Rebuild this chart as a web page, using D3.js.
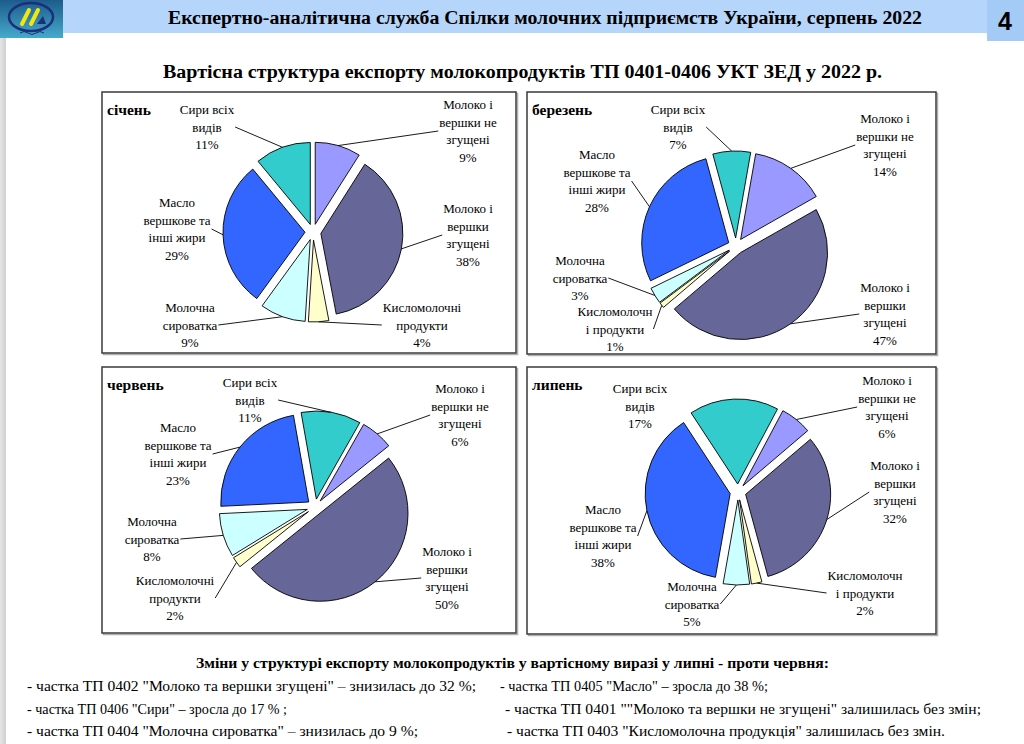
<!DOCTYPE html>
<html>
<head>
<meta charset="utf-8">
<script src="https://cdn.jsdelivr.net/npm/d3@7"></script>
<style>
  body { margin: 0; background: #fff; }
  svg { display: block; }
  text { font-family: "Liberation Serif", "Times New Roman", serif; }
</style>
</head>
<body>
<svg id="chart" width="1024" height="744"></svg>
<script>
// Slice categories, clockwise from the first slice
var categories = ["Молоко і вершки не згущені", "Молоко і вершки згущені", "Кисломолочні продукти",
                  "Молочна сироватка", "Масло вершкове та інші жири", "Сири всіх видів"];
var sliceColors = ["#9999ff", "#666699", "#ffffcc", "#ccffff", "#3366ff", "#33cccc"];
var months = ["січень", "березень", "червень", "липень"];

// Shares, %
var janValues = [9, 38, 4, 9, 29, 11];
var marValues = [14, 47, 1, 3, 28, 7];
var junValues = [6, 50, 2, 8, 23, 11];
var julValues = [6, 32, 2, 5, 38, 17];

// Label wording (Excel wrapped "Кисломолочні" differently on two charts)
var labelsA = [["Молоко і", "вершки не", "згущені"], ["Молоко і", "вершки", "згущені"], ["Кисломолочні", "продукти"],
               ["Молочна", "сироватка"], ["Масло", "вершкове та", "інші жири"], ["Сири всіх", "видів"]];
var labelsB = [["Молоко і", "вершки не", "згущені"], ["Молоко і", "вершки", "згущені"], ["Кисломолочн", "і продукти"],
               ["Молочна", "сироватка"], ["Масло", "вершкове та", "інші жири"], ["Сири всіх", "видів"]];

// Page texts
var headerText = "Експертно-аналітична служба Спілки молочних підприємств України,  серпень 2022";
var pageNumber = "4";
var titleText = "Вартісна структура експорту молокопродуктів ТП 0401-0406 УКТ ЗЕД у 2022 р.";
var notesTitle = "Зміни у структурі експорту молокопродуктів у вартісному виразі у липні  - проти червня:";
var notesLeft = ["- частка ТП 0402 \"Молоко та вершки згущені\" – знизилась до 32 %;",
                 "- частка ТП 0406 \"Сири\" – зросла  до 17 % ;",
                 "- частка ТП 0404 \"Молочна сироватка\" – знизилась до 9 %;"];
var notesRight = ["-  частка ТП 0405 \"Масло\" – зросла до 38 %;",
                  "- частка ТП 0401 \"\"Молоко та вершки не згущені\" залишилась без змін;",
                  "- частка ТП 0403 \"Кисломолочна продукція\" залишилась без змін."];

// Panel layout: frame, pie centre/radius, first slice angle, label block centres
var panels = [
  { month: months[0], values: janValues, labels: labelsA, x: 102, y: 92, w: 414, h: 261,
    cx: 313, cy: 232, r: 82, start: 0,
    pos: [[468, 131], [468, 235], [422, 325], [190, 325], [177, 229], [207, 127]], lead: [1, 1, 1, 1, 1, 1] },
  { month: months[1], values: marValues, labels: labelsB, x: 527, y: 92, w: 409, h: 262,
    cx: 736, cy: 246, r: 87, start: 10,
    pos: [[885, 145], [885, 314], [615, 329], [580, 278], [597, 181], [678, 127]], lead: [1, 1, 1, 1, 1, 1] },
  { month: months[2], values: junValues, labels: labelsA, x: 102, y: 367, w: 414, h: 266,
    cx: 315, cy: 507, r: 88, start: 29.6,
    pos: [[460, 415], [447, 578], [175, 598], [152, 539], [178, 454], [250, 400]], lead: [1, 1, 1, 1, 1, 1] },
  { month: months[3], values: julValues, labels: labelsB, x: 527, y: 367, w: 409, h: 267,
    cx: 738, cy: 492, r: 85, start: 28,
    pos: [[887, 407], [895, 492], [865, 593], [692, 604], [603, 536], [640, 406]], lead: [1, 1, 1, 1, 1, 0] }
];

var explode = 8, lineH = 17.5;
var svg = d3.select("#chart");

// ---- page chrome ----
var defs = svg.append("defs");
var lg = defs.append("linearGradient").attr("id", "logoGrad").attr("x1", 0).attr("y1", 0).attr("x2", 0).attr("y2", 1);
lg.append("stop").attr("offset", "0%").attr("stop-color", "#1d5c8c");
lg.append("stop").attr("offset", "100%").attr("stop-color", "#45aacb");
var sg = defs.append("linearGradient").attr("id", "sideGrad").attr("x1", 0).attr("y1", 0).attr("x2", 1).attr("y2", 0);
sg.append("stop").attr("offset", "0%").attr("stop-color", "#e6e6e6");
sg.append("stop").attr("offset", "100%").attr("stop-color", "#cfcfcf");

svg.append("rect").attr("x", 0).attr("y", 38).attr("width", 6).attr("height", 706).attr("fill", "url(#sideGrad)");
svg.append("rect").attr("x", 63).attr("y", 0).attr("width", 924).attr("height", 33).attr("fill", "#b5d5fa");
svg.append("rect").attr("x", 987).attr("y", 0).attr("width", 37).attr("height", 41).attr("fill", "#a3cbf5");

// logo
var logo = svg.append("g");
logo.append("rect").attr("width", 63).attr("height", 38).attr("fill", "url(#logoGrad)");
logo.append("ellipse").attr("cx", 31).attr("cy", 17).attr("rx", 22).attr("ry", 14)
  .attr("fill", "none").attr("stroke", "#1b2f7a").attr("stroke-width", 2.5);
logo.append("path").attr("d", "M22,24 L29,10 M31,24 L38,10").attr("stroke", "#f2e611").attr("stroke-width", 4).attr("stroke-linecap", "round");
logo.append("path").attr("d", "M37,24 L43,16 L46,24 Z").attr("fill", "#1b2f7a");
logo.append("path").attr("d", "M20,33 q4,-3 8,0 t8,0 t8,0").attr("fill", "none").attr("stroke", "#1b2f7a").attr("stroke-width", 1);

svg.append("text").attr("x", 168).attr("y", 24).attr("textLength", 754).attr("lengthAdjust", "spacingAndGlyphs")
  .attr("font-size", 18).attr("font-weight", "bold").text(headerText);
svg.append("text").attr("x", 1005).attr("y", 30).attr("text-anchor", "middle")
  .style("font-family", "'Liberation Sans', Arial, sans-serif").attr("font-size", 25).attr("font-weight", "bold").text(pageNumber);
svg.append("text").attr("x", 163).attr("y", 78).attr("textLength", 719).attr("lengthAdjust", "spacingAndGlyphs")
  .attr("font-size", 18).attr("font-weight", "bold").text(titleText);

// ---- pies ----
panels.forEach(function(p) {
  var g = svg.append("g");
  g.append("rect").attr("x", p.x + 1.5).attr("y", p.y + 1.5).attr("width", p.w).attr("height", p.h)
    .attr("fill", "none").attr("stroke", "#b0b0b0").attr("stroke-width", 1.5);
  g.append("rect").attr("x", p.x).attr("y", p.y).attr("width", p.w).attr("height", p.h)
    .attr("fill", "#fff").attr("stroke", "#3a3a3a").attr("stroke-width", 1.5);
  g.append("text").attr("x", p.x + 5).attr("y", p.y + 23)
    .attr("font-size", 15.5).attr("font-weight", "bold").text(p.month);

  var a0 = p.start * Math.PI / 180;
  var pie = d3.pie().sort(null).value(function(d) { return d; }).startAngle(a0).endAngle(a0 + 2 * Math.PI);
  var arc = d3.arc().innerRadius(0).outerRadius(p.r);
  var arcs = pie(p.values);

  var pg = g.append("g").attr("transform", "translate(" + p.cx + "," + p.cy + ")");
  pg.selectAll("path.slice").data(arcs).enter().append("path")
    .attr("class", "slice")
    .attr("d", arc)
    .attr("transform", function(d) {
      var m = (d.startAngle + d.endAngle) / 2;
      return "translate(" + (explode * Math.sin(m)) + "," + (-explode * Math.cos(m)) + ")";
    })
    .attr("fill", function(d, i) { return sliceColors[i]; })
    .attr("stroke", "#000").attr("stroke-width", 0.9);

  // labels and leader lines
  arcs.forEach(function(d, i) {
    var lines = p.labels[i].concat([p.values[i] + "%"]);
    var lx = p.pos[i][0], ly = p.pos[i][1];
    var y0 = ly - (lines.length - 1) / 2 * lineH;
    var t = g.append("text").attr("text-anchor", "middle")
      .attr("font-size", 13).attr("fill", "#000");
    var wMax = 0;
    lines.forEach(function(s, k) {
      var ts = t.append("tspan").attr("x", lx).attr("y", y0 + k * lineH).attr("dy", "0.35em").text(s);
      wMax = Math.max(wMax, ts.node().getComputedTextLength());
    });
    if (!p.lead[i]) return;
    var m = (d.startAngle + d.endAngle) / 2, rr = p.r + explode;
    var ex = p.cx + rr * Math.sin(m), ey = p.cy - rr * Math.cos(m);
    var sx = lx < ex ? lx + wMax / 2 + 1 : lx - wMax / 2 - 1;
    g.append("line").attr("x1", sx).attr("y1", ly).attr("x2", ex).attr("y2", ey)
      .attr("stroke", "#000").attr("stroke-width", 0.9);
  });
});

// ---- notes ----
svg.append("text").attr("x", 196).attr("y", 668).attr("textLength", 633).attr("lengthAdjust", "spacingAndGlyphs")
  .attr("font-size", 14.5).attr("font-weight", "bold").text(notesTitle);
var leftLen = [449, 260, 391], rightLen = [268, 476, 438], rightX = [500, 505, 507];
notesLeft.forEach(function(s, i) {
  svg.append("text").attr("x", 27).attr("y", 691 + i * 22.5).attr("textLength", leftLen[i]).attr("lengthAdjust", "spacingAndGlyphs")
    .attr("font-size", 14).text(s);
});
notesRight.forEach(function(s, i) {
  svg.append("text").attr("x", rightX[i]).attr("y", 691 + i * 22.5).attr("textLength", rightLen[i]).attr("lengthAdjust", "spacingAndGlyphs")
    .attr("font-size", 14).text(s);
});
</script>
</body>
</html>
